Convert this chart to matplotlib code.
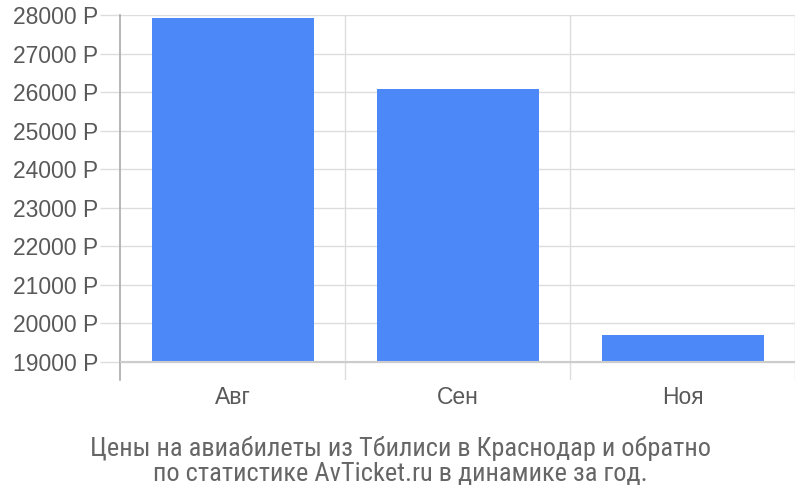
import matplotlib.pyplot as plt
import numpy as np

months = ['Авг', 'Сен', 'Ноя']
prices = [27920, 26070, 19710]
y_ticks = np.arange(19000, 28001, 1000)
y_labels = ['%d Р' % v for v in y_ticks]
base = 19000

plt.rcParams['font.family'] = ['Liberation Sans', 'DejaVu Sans']

fig = plt.figure(figsize=(8, 5), dpi=100)
ax = fig.add_axes((0.15, 0.24, 0.84375, 0.73))

x = np.arange(len(months))
ax.bar(x, np.array(prices) - base, bottom=base, width=0.72, color='#4d88f9', zorder=3)

ax.set_xlim(-0.5, len(months) - 0.5)
ax.set_ylim(18530, 28000)

ax.set_yticks(y_ticks)
ax.set_yticklabels(y_labels, fontsize=16.5, color='#595959')
ax.tick_params(axis='y', length=14.4, width=1, color='#dddddd', pad=1)
ax.yaxis.grid(True, color='#dddddd', linewidth=1, zorder=0)
ax.axhline(base, color='#cccccc', linewidth=1.5, zorder=4)

ax.set_xticks(x)
ax.set_xticklabels(months, fontsize=16.5, color='#595959')
ax.tick_params(axis='x', length=0, pad=4)
ax.set_xticks(np.arange(len(months)) + 0.5, minor=True)
ax.tick_params(axis='x', which='minor', length=0)
ax.xaxis.grid(True, which='minor', color='#dddddd', linewidth=1, zorder=0)

for s in ['top', 'right', 'bottom']:
    ax.spines[s].set_visible(False)
ax.spines['left'].set_color('#aaaaaa')
ax.spines['left'].set_linewidth(1.2)

fig.text(0.5, 0.078, 'Цены на авиабилеты из Тбилиси в Краснодар и обратно\nпо статистике AvTicket.ru в динамике за год.',
         ha='center', va='center', fontsize=19, color='#666666', linespacing=1.08,
         family=['Roboto Condensed', 'DejaVu Sans'])

plt.savefig('out.png', dpi=100)
